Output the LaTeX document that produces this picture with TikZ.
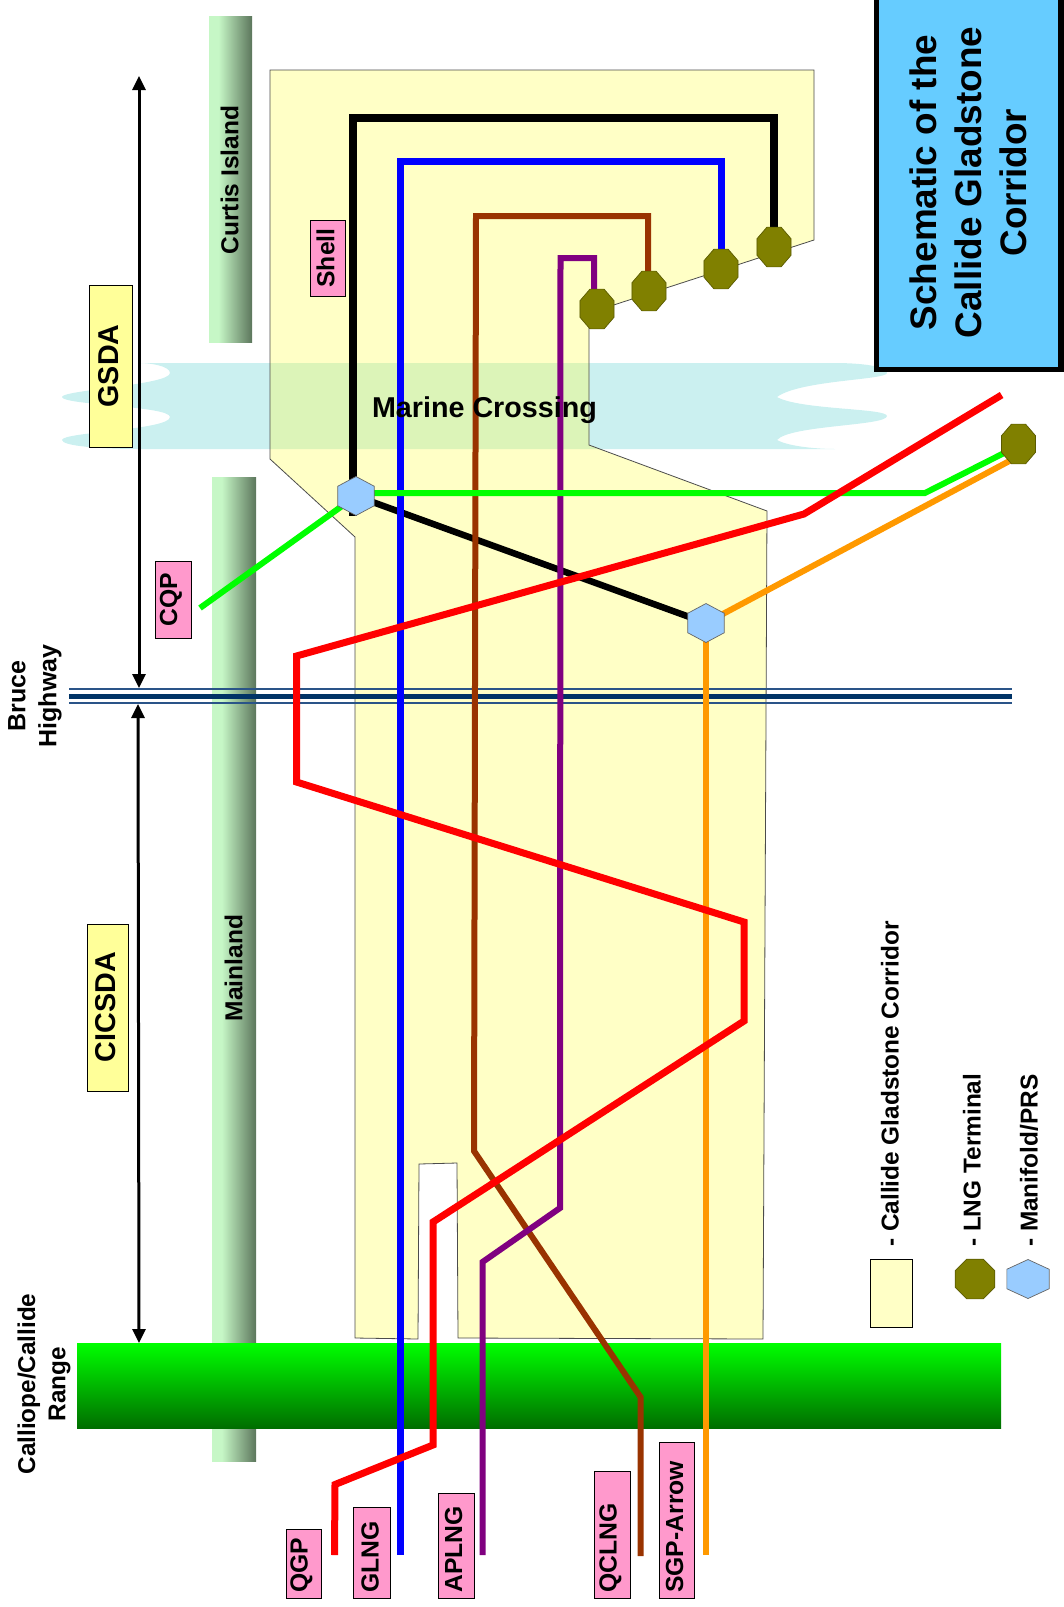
\documentclass[tikz,border=0pt]{standalone}
\usepackage{fontspec}
\setmainfont{Liberation Sans}
\usetikzlibrary{shapes.geometric,arrows.meta}
\pgfdeclarelayer{base}
\pgfdeclarelayer{lines}
\pgfsetlayers{base,lines,main}
\definecolor{corr}{HTML}{FFFFC6}
\definecolor{sea}{HTML}{CBF0F0}
\definecolor{seacorr}{HTML}{DCF4B8}
\definecolor{pinkbox}{HTML}{FF99CC}
\definecolor{yelbox}{HTML}{FFFF99}
\definecolor{oct}{HTML}{808000}
\definecolor{hex}{HTML}{99CCFF}
\definecolor{titlebg}{HTML}{66CCFF}
\definecolor{roadcol}{HTML}{003366}
\definecolor{roadthin}{HTML}{2A5488}
\definecolor{barlight}{HTML}{C6F7C6}
\definecolor{bardark}{HTML}{5C765C}
\definecolor{rangedark}{HTML}{006E00}
\definecolor{pbrown}{HTML}{993300}
\definecolor{ppurple}{HTML}{800080}
\definecolor{porange}{HTML}{FF9900}
\pgfdeclarehorizontalshading{vbarshade}{100bp}{color(0bp)=(barlight); color(36bp)=(barlight); color(75bp)=(bardark); color(100bp)=(bardark)}
\def\seapath{(140,363) -- (835,363)
  .. controls (860,363) and (887,366) .. (887,373)
  .. controls (887,380) and (800,380) .. (777,397)
  .. controls (800,410) and (887,408) .. (887,416)
  .. controls (887,426) and (790,425) .. (777,440)
  .. controls (790,447) and (820,449) .. (835,449)
  -- (140,449)
  .. controls (100,449) and (62,446) .. (62,440)
  .. controls (62,432) and (170,430) .. (170,417)
  .. controls (170,406) and (62,405) .. (62,397)
  .. controls (62,390) and (170,385) .. (170,373)
  .. controls (170,366) and (150,363) .. (140,363) -- cycle}
\def\corrpath{(270,70) -- (814,70) -- (814,240) -- (589,313) -- (589,445) -- (767,511)
  -- (763,1339) -- (458,1338) -- (457,1163) -- (419,1164) -- (418,1339)
  -- (355,1338) -- (355,537) -- (270,459) -- cycle}
\tikzset{
  x=1pt,y=-1pt,
  rtext/.style={rotate=90,inner sep=0pt,align=center,text=black},
  rbold/.style={rtext,font=\fontsize{#1}{#1}\bfseries\selectfont},
  tag/.style={draw=black,line width=0.8pt,fill=#1},
  tagtext/.style={rotate=90,inner sep=0pt,anchor=west,font=\fontsize{24.7}{24.7}\bfseries\selectfont},
  bigtag/.style={rotate=90,inner sep=0pt,font=\fontsize{28.7}{28.7}\bfseries\selectfont},
  terminal/.style={regular polygon,regular polygon sides=8,minimum size=43pt,inner sep=0pt,xscale=0.86,draw=oct!70!black,line width=0.7pt,fill=oct},
  manifold/.style={regular polygon,regular polygon sides=6,shape border rotate=30,minimum size=39pt,inner sep=0pt,xscale=1.08,draw=gray!80!black,line width=0.7pt,fill=hex},
  pipe/.style={line width=#1,line join=miter},
  dimarrow/.style={line width=3pt,{Triangle[length=14pt,width=13pt]}-{Triangle[length=14pt,width=13pt]}},
  vbar/.style={shading=vbarshade},
}
\begin{document}
\begin{tikzpicture}
\useasboundingbox (0,0) rectangle (1064,1607);
\begin{pgfonlayer}{base}
\fill[sea] \seapath;
\path[fill=corr] \corrpath;
\begin{scope}
  \clip \corrpath;
  \fill[seacorr] \seapath;
\end{scope}
\draw[black!70,line width=0.8pt] \corrpath;
\path[vbar] (209,16) rectangle (252,342);
\path[vbar] (212,477) rectangle (256,1461);
\path[top color=green,bottom color=rangedark] (77,1343) rectangle (1001,1428);
% highway
\draw[roadthin,line width=2.2pt] (69,689) -- (1012,689);
\draw[roadthin,line width=2.2pt] (69,703) -- (1012,703);
\draw[roadcol,line width=5pt] (69,696) -- (1012,696);
% dimension arrows
\coordinate (gsdaT) at (139,76);
\coordinate (gsdaB) at (139,688);
\coordinate (cicT) at (138,704);
\coordinate (cicB) at (139,1343);
\draw[dimarrow] (gsdaT) -- (gsdaB);
\draw[dimarrow] (cicT) -- (cicB);
\end{pgfonlayer}
% markers
\node[terminal] (T1) at (597,309) {};
\node[terminal] (T2) at (649,291) {};
\node[terminal] (T3) at (721,269) {};
\node[terminal] (T4) at (774,247) {};
\node[terminal] (T5) at (1018.5,444) {};
\node[manifold] (M1) at (356,496) {};
\node[manifold] (M2) at (706,623) {};
% pipes
\coordinate (kA) at (774,118); \coordinate (kB) at (353,118); \coordinate (kC) at (353,516);
\coordinate (bA) at (721,161); \coordinate (bB) at (400,161); \coordinate (bE) at (400,1555);
\coordinate (nT) at (648,291); \coordinate (nA) at (648,216); \coordinate (nB) at (476,216); \coordinate (nC) at (474,1151); \coordinate (nD) at (640.5,1397); \coordinate (nE) at (640.5,1556);
\coordinate (pT) at (594,305); \coordinate (pA) at (594,258); \coordinate (pB) at (560.5,258); \coordinate (pC) at (560,1208); \coordinate (pD) at (482.5,1262); \coordinate (pE) at (482.5,1555);
\coordinate (gA) at (200,608); \coordinate (gB) at (356,493); \coordinate (gC) at (925,493); \coordinate (gT) at (1012,449);
\coordinate (oE) at (706,1555); \coordinate (oT) at (1015,458);
\coordinate (r0) at (1001.6,395); \coordinate (r1) at (804,514); \coordinate (r2) at (296.5,656); \coordinate (r3) at (296.5,782);
\coordinate (r4) at (744,922); \coordinate (r5) at (744,1021); \coordinate (r6) at (433,1222); \coordinate (r7) at (433,1445);
\coordinate (r8) at (335,1484.5); \coordinate (r9) at (334.5,1555);
\begin{pgfonlayer}{lines}
\draw[pipe=7.5pt,black] (T4.center) -- (kA) -- (kB) -- (kC);
\draw[pipe=6.5pt,black] (M1.center) -- (M2.center);
\draw[pipe=7pt,blue] (T3.center) -- (bA) -- (bB) -- (bE);
\draw[pipe=6pt,pbrown] (nT) -- (nA) -- (nB) -- (nC) -- (nD) -- (nE);
\draw[pipe=6pt,ppurple] (pT) -- (pA) -- (pB) -- (pC) -- (pD) -- (pE);
\draw[pipe=6pt,green] (gA) -- (M1.center);
\draw[pipe=6pt,green] (gB) -- (gC) -- (gT);
\draw[pipe=6pt,porange] (M2.center) -- (oE);
\draw[pipe=6pt,porange] (M2.center) -- (oT);
\draw[pipe=7pt,red] (r0) -- (r1) -- (r2) -- (r3) -- (r4) -- (r5) -- (r6) -- (r7) -- (r8) -- (r9);
\end{pgfonlayer}
% bar labels
\node[rbold=24.5] (curtis) at (229.5,180) {Curtis Island};
\node[rbold=24.5] (mainland) at (233.5,968) {Mainland};
% yellow labels
\draw[tag=yelbox] (89,285) rectangle (132,447);
\node[bigtag] (gsda) at (108.5,366) {GSDA};
\draw[tag=yelbox] (87.5,924.5) rectangle (128,1091);
\node[bigtag] (cicsda) at (105.5,1007) {CICSDA};
% pink labels
\draw[tag=pinkbox] (310,220) rectangle (345,296);
\node[tagtext,anchor=center] (shell) at (325.5,258) {Shell};
\draw[tag=pinkbox] (155,561) rectangle (191,638);
\node[tagtext,anchor=center] (cqp) at (171,599.5) {CQP};
\draw[tag=pinkbox] (286,1529) rectangle (321,1598);
\node[tagtext] (qgp) at (301.5,1593) {QGP};
\draw[tag=pinkbox] (353.5,1507) rectangle (390,1598);
\node[tagtext] (glng) at (370,1593) {GLNG};
\draw[tag=pinkbox] (438,1493) rectangle (474,1598);
\node[tagtext] (aplng) at (453.5,1593) {APLNG};
\draw[tag=pinkbox] (594,1471) rectangle (630,1598);
\node[tagtext] (qclng) at (610.5,1593) {QCLNG};
\draw[tag=pinkbox] (659,1442) rectangle (694,1598);
\node[tagtext] (sgp) at (674.5,1593) {SGP-Arrow};
% marine crossing text
\node[inner sep=0pt,font=\fontsize{28.7}{28.7}\bfseries\selectfont] (marine) at (484.5,410) {Marine Crossing};
% free labels
\node[rbold=25] (bruce) at (35,696) {Bruce\\[6pt]Highway};
\node[rbold=24.3] (range) at (44,1384) {Calliope/Callide\\[6pt]Range};
% title
\draw[line width=5.4pt,draw=black,fill=titlebg] (876.7,-5) rectangle (1061,369.5);
\node[rbold=36.9] (title) at (968,182.5) {Schematic of the\\[8pt]Callide Gladstone\\[8pt]Corridor};
% legend
\draw[tag=corr] (870.5,1259) rectangle (912.7,1327.5);
\node[terminal,xscale=1.16] (legT) at (975,1279) {};
\node[manifold,xscale=1.16] (legM) at (1028,1279) {};
\node[rbold=24.4,anchor=west] (l1) at (890,1247) {- Callide Gladstone Corridor};
\node[rbold=24.4,anchor=west] (l2) at (972,1247) {- LNG Terminal};
\node[rbold=24.4,anchor=west] (l3) at (1029,1247) {- Manifold/PRS};
\end{tikzpicture}
\end{document}
